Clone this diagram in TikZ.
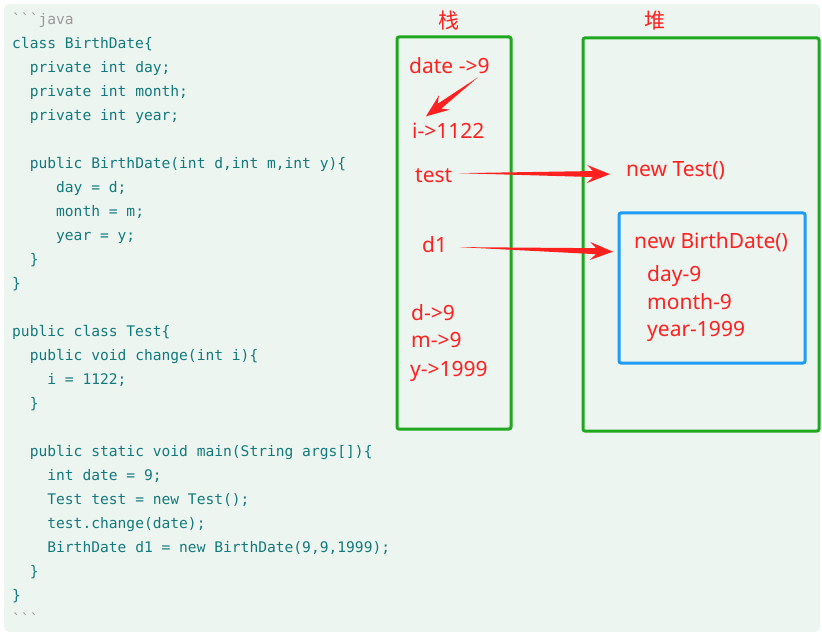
\documentclass[tikz,border=0pt]{standalone}
\usepackage{fontspec}
\setmainfont{Noto Sans}
\setmonofont{DejaVu Sans Mono}
\newfontfamily\cjk{Noto Sans CJK SC}
\usetikzlibrary{calc}

\definecolor{paper}{HTML}{EDF5F0}
\definecolor{codeteal}{HTML}{137A7C}
\definecolor{codegray}{HTML}{9A9A9A}
\definecolor{memgreen}{HTML}{1FA81F}
\definecolor{objblue}{HTML}{1E9BF5}
\definecolor{refred}{HTML}{FF2020}

% tapered arrow from #1 (thin tail) to #2 (tip)
\newcommand{\fatarrow}[2]{%
  \path (#1) coordinate (ft) (#2) coordinate (fh);
  \coordinate (fn) at ($(fh)!17pt!(ft)$);
  \coordinate (fb) at ($(fh)!23pt!(ft)$);
  \fill[refred] (ft) -- ($(fn)!3pt!90:(fh)$) -- ($(fb)!9pt!90:(fh)$) -- (fh)
    -- ($(fb)!9pt!-90:(fh)$) -- ($(fn)!3pt!-90:(fh)$) -- cycle;
}

\begin{document}
\begin{tikzpicture}[x=1pt, y=-1pt,
    code/.style={inner sep=0pt, align=left, text=codeteal,
      font=\ttfamily\fontsize{14.6}{24}\selectfont},
    lbl/.style={inner sep=0pt, text=refred, font=\fontsize{21}{24}\selectfont},
    mem/.style={draw=memgreen, line width=3pt, rounded corners=2pt},
    obj/.style={draw=objblue, line width=3pt, rounded corners=2pt}]
  \useasboundingbox (0,0) rectangle (822,636);
  \fill[paper, rounded corners=5pt] (4,4) rectangle (820,632);

  % source code
  \node[code, anchor=north west] (src) at (12,7.2) {\strut\textcolor{codegray}{\textasciigrave\textasciigrave\textasciigrave java}\\
class BirthDate\{\\
~~private int day;\\
~~private int month;\\
~~private int year;\\
\\
~~public BirthDate(int d,int m,int y)\{\\
~~~~~day = d;\\
~~~~~month = m;\\
~~~~~year = y;\\
~~\}\\
\}\\
\\
public class Test\{\\
~~public void change(int i)\{\\
~~~~i = 1122;\\
~~\}\\
\\
~~public static void main(String args[])\{\\
~~~~int date = 9;\\
~~~~Test test = new Test();\\
~~~~test.change(date);\\
~~~~BirthDate d1 = new BirthDate(9,9,1999);\\
~~\}\\
\}\\
\textcolor{codegray}{\textasciigrave\textasciigrave\textasciigrave}};

  % stack and heap
  \path[mem] (397,37) rectangle (511,429);
  \path[mem] (583,38) rectangle (819,431);
  \path[obj] (619,213) rectangle (805,363);
  \node[lbl, anchor=base west] (stack) at (438,29) {\cjk 栈};
  \node[lbl, anchor=base west] (heap) at (644,29) {\cjk 堆};

  % stack entries
  \node[lbl, anchor=base west] (date) at (409,74) {date ->9};
  \node[lbl, anchor=base west] (i) at (412,139) {i->1122};
  \node[lbl, anchor=base west] (test) at (415,183) {test};
  \node[lbl, anchor=base west] (d1) at (422,253) {d1};
  \node[lbl, anchor=base west] (d) at (411,321) {d->9};
  \node[lbl, anchor=base west] (m) at (411,348) {m->9};
  \node[lbl, anchor=base west] (y) at (410,376) {y->1999};

  % heap objects
  \node[lbl, anchor=base west] (newtest) at (626,177) {new Test()};
  \node[lbl, anchor=base west] (newbd) at (634,249) {new BirthDate()};
  \node[lbl, anchor=base west] (day) at (647,282) {day-9};
  \node[lbl, anchor=base west] (month) at (647,310) {month-9};
  \node[lbl, anchor=base west] (year) at (647,337) {year-1999};

  \fatarrow{$(date.south east)+(-12,3)$}{$(i.north west)+(14,-7)$}
  \fatarrow{$(test.east)+(6,-3)$}{$(newtest.west)+(-16,3)$}
  \fatarrow{$(d1.east)+(12,2)$}{$(newbd.west)+(-21,9)$}
\end{tikzpicture}
\end{document}
